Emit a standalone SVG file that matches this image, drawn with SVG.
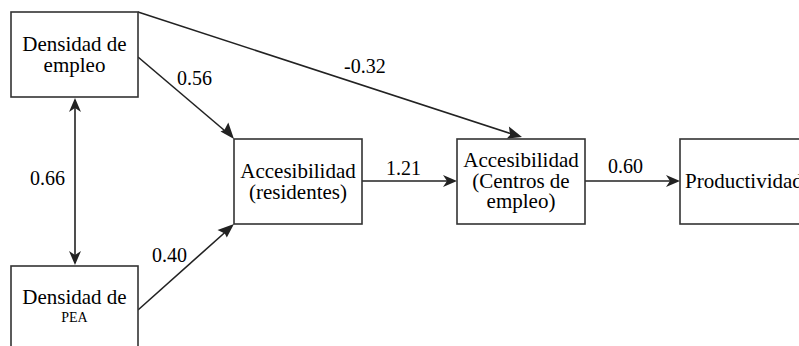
<svg xmlns="http://www.w3.org/2000/svg" width="799" height="346" viewBox="0 0 799 346">
<rect width="799" height="346" fill="#fff"/>
<g id="connectors" stroke="#222" stroke-width="1.6" fill="#222">
<line x1="75" y1="100" x2="75" y2="263"/>
<polygon points="75,98 81,112 75,108 69,112" stroke="none"/>
<polygon points="75,265 81,251 75,255 69,251" stroke="none"/>
<line x1="138" y1="57" x2="231" y2="136"/>
<polygon points="234,139 220.5,131.5 224.5,129.8 228.3,122.4" stroke="none"/>
<line x1="138" y1="310" x2="231" y2="227"/>
<polygon points="234,224 226.8,237.6 224.8,233.6 217.5,230" stroke="none"/>
<line x1="138" y1="12" x2="518" y2="136"/>
<polygon points="522,137 506.8,138.6 510.1,134.9 508.9,126.6" stroke="none"/>
<line x1="362" y1="181" x2="452" y2="181"/>
<polygon points="457,181 443,187 447,181 443,175" stroke="none"/>
<line x1="585" y1="181" x2="675" y2="181"/>
<polygon points="680,181 666,187 670,181 666,175" stroke="none"/>
</g>
<g id="labels">
<text x="30" y="185" font-family="Liberation Serif" font-size="20">0.66</text>
<text x="177" y="85" font-family="Liberation Serif" font-size="20">0.56</text>
<text x="152" y="262" font-family="Liberation Serif" font-size="20">0.40</text>
<text x="344" y="73" font-family="Liberation Serif" font-size="20">-0.32</text>
<text x="386" y="175" font-family="Liberation Serif" font-size="20">1.21</text>
<text x="608" y="173" font-family="Liberation Serif" font-size="20">0.60</text>
</g>
<g id="densidad-empleo">
<rect x="11" y="12" width="127" height="85" fill="#fff" stroke="#333" stroke-width="1.6"/>
<text x="74.5" y="51" font-family="Liberation Serif" font-size="21" text-anchor="middle">Densidad de</text>
<text x="74.5" y="72" font-family="Liberation Serif" font-size="21" text-anchor="middle">empleo</text>
</g>
<g id="densidad-pea">
<rect x="11" y="266" width="127" height="90" fill="#fff" stroke="#333" stroke-width="1.6"/>
<text x="74.5" y="304" font-family="Liberation Serif" font-size="21" text-anchor="middle">Densidad de</text>
<text x="74.5" y="322" font-family="Liberation Serif" font-size="14" text-anchor="middle">PEA</text>
</g>
<g id="acc-residentes">
<rect x="234" y="139" width="128" height="85" fill="#fff" stroke="#333" stroke-width="1.6"/>
<text x="298" y="178" font-family="Liberation Serif" font-size="21" text-anchor="middle">Accesibilidad</text>
<text x="298" y="199" font-family="Liberation Serif" font-size="21" text-anchor="middle">(residentes)</text>
</g>
<g id="acc-centros">
<rect x="457" y="139" width="128" height="85" fill="#fff" stroke="#333" stroke-width="1.6"/>
<text x="521" y="167" font-family="Liberation Serif" font-size="21" text-anchor="middle">Accesibilidad</text>
<text x="521" y="188" font-family="Liberation Serif" font-size="21" text-anchor="middle">(Centros de</text>
<text x="521" y="208" font-family="Liberation Serif" font-size="21" text-anchor="middle">empleo)</text>
</g>
<g id="productividad">
<rect x="680" y="139" width="140" height="85" fill="#fff" stroke="#333" stroke-width="1.6"/>
<text x="685" y="188" font-family="Liberation Serif" font-size="21">Productividad</text>
</g>
</svg>
